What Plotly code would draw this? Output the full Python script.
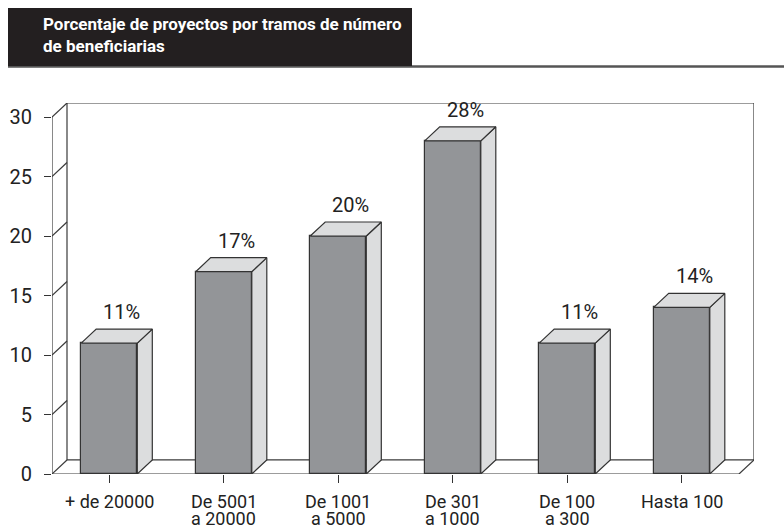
import plotly.graph_objects as go

# ---- data ----
categories = ["+ de 20000", "De 5001\na 20000", "De 1001\na 5000", "De 301\na 1000", "De 100\na 300", "Hasta 100"]
values = [11, 17, 20, 28, 11, 14]
y_ticks = [0, 5, 10, 15, 20, 25, 30]
title_lines = ["Porcentaje de proyectos por tramos de número", "de beneficiarias"]

# ---- style / geometry ----
W, H = 784, 529
L, R, T, B = 52, 754, 103, 474          # plot area pixels
FONT = "Roboto, DejaVu Sans Condensed, sans-serif"
FRONT = "#939598"
LIGHT = "#dcddde"
EDGE = "#333333"
bar_w = 0.49
dxu = 0.131   # depth offset in x units
dyu = 1.18    # depth offset in y units
n = len(categories)
xs = list(range(n))
ymax = max(y_ticks)

def px2x(px):
    return (px - L) / (R - L)

def py2y(py):
    return (B - py) / (B - T)

fig = go.Figure()

# front faces
fig.add_trace(go.Bar(x=xs, y=values, width=bar_w, marker=dict(color=FRONT, line=dict(color=EDGE, width=1.2)),
                     hoverinfo="skip", showlegend=False))

# side and top faces
for i, v in zip(xs, values):
    xr = i + bar_w / 2
    xl = i - bar_w / 2
    fig.add_trace(go.Scatter(x=[xr, xr + dxu, xr + dxu, xr, xr], y=[0, dyu, v + dyu, v, 0],
                             fill="toself", fillcolor=LIGHT, mode="lines",
                             line=dict(color=EDGE, width=1.2), hoverinfo="skip", showlegend=False))
    fig.add_trace(go.Scatter(x=[xl, xl + dxu, xr + dxu, xr, xl], y=[v, v + dyu, v + dyu, v, v],
                             fill="toself", fillcolor=LIGHT, mode="lines",
                             line=dict(color=EDGE, width=1.2), hoverinfo="skip", showlegend=False))

shapes = []
lc = dict(color="#3a3a3a", width=1.2)
x0, x1 = -0.5, n - 0.5
# back wall
shapes.append(dict(type="line", x0=x0 + dxu, x1=x0 + dxu, y0=dyu, y1=ymax + dyu, line=lc, layer="below"))
shapes.append(dict(type="line", x0=x0 + dxu, x1=x1 + dxu, y0=ymax + dyu, y1=ymax + dyu, line=lc, layer="below"))
shapes.append(dict(type="line", x0=x1 + dxu, x1=x1 + dxu, y0=dyu, y1=ymax + dyu, line=lc, layer="below"))
# floor
shapes.append(dict(type="line", x0=x0 + dxu, x1=x1 + dxu, y0=dyu, y1=dyu, line=lc, layer="below"))
shapes.append(dict(type="line", x0=x0, x1=x1, y0=0, y1=0, line=lc, layer="below"))
shapes.append(dict(type="line", x0=x1, x1=x1 + dxu, y0=0, y1=dyu, line=lc, layer="below"))
# left wall front edge and diagonals
shapes.append(dict(type="line", x0=x0, x1=x0, y0=0, y1=ymax, line=lc, layer="below"))
for t in y_ticks:
    shapes.append(dict(type="line", x0=x0, x1=x0 + dxu, y0=t, y1=t + dyu, line=lc, layer="below"))

# title block
shapes.append(dict(type="line", xref="paper", yref="paper", x0=px2x(8), x1=px2x(784),
                   y0=py2y(66.5), y1=py2y(66.5), line=dict(color="#555555", width=2.5)))
shapes.append(dict(type="rect", xref="paper", yref="paper", x0=px2x(8), x1=px2x(412),
                   y0=py2y(66), y1=py2y(8), fillcolor="#231f20", line=dict(width=0)))

annotations = []
for k, line in enumerate(title_lines):
    annotations.append(dict(xref="paper", yref="paper", x=px2x(41), y=py2y(24 + 22 * k),
                            xanchor="left", yanchor="middle", showarrow=False, text="<b>" + line + "</b>",
                            font=dict(family=FONT, size=17, color="white")))

# value labels
for i, v in zip(xs, values):
    annotations.append(dict(x=i + dxu / 2, y=v + dyu, xref="x", yref="y", text=f"{v}%", showarrow=False,
                            xanchor="center", yanchor="middle", yshift=17, xshift=5,
                            font=dict(family=FONT, size=20, color="#222222")))

# category labels (each line separately)
for i, c in zip(xs, categories):
    for k, line in enumerate(c.split("\n")):
        annotations.append(dict(x=i, xref="x", yref="paper", y=py2y(501 + 17 * k), text=line,
                                showarrow=False, xanchor="center", yanchor="middle",
                                font=dict(family=FONT, size=18, color="#222222")))

fig.update_layout(
    width=W, height=H,
    margin=dict(l=L, r=W - R, t=T, b=H - B, pad=0),
    paper_bgcolor="white", plot_bgcolor="white",
    font=dict(family=FONT, size=20, color="#222222"),
    shapes=shapes, annotations=annotations,
    bargap=0,
)
fig.update_xaxes(range=[x0, x1 + dxu], showgrid=False, zeroline=False, showline=False,
                 tickmode="array", tickvals=xs, ticktext=[""] * n, ticks="outside", ticklen=8,
                 tickcolor="#333333", tickwidth=1.2, fixedrange=True, automargin=False)
fig.update_yaxes(range=[0, ymax + dyu], showgrid=False, zeroline=False, showline=False,
                 tickmode="array", tickvals=y_ticks, ticktext=[str(t) for t in y_ticks],
                 ticks="outside", ticklen=7, tickcolor="#333333", tickwidth=1.2,
                 ticklabelstandoff=8, tickfont=dict(family=FONT, size=20, color="#222222"),
                 fixedrange=True, automargin=False)

fig.write_html("out.html", config={"displayModeBar": False},
               post_script="document.body.style.margin='0';document.body.style.padding='0';"
                           "document.documentElement.style.overflow='hidden';")
